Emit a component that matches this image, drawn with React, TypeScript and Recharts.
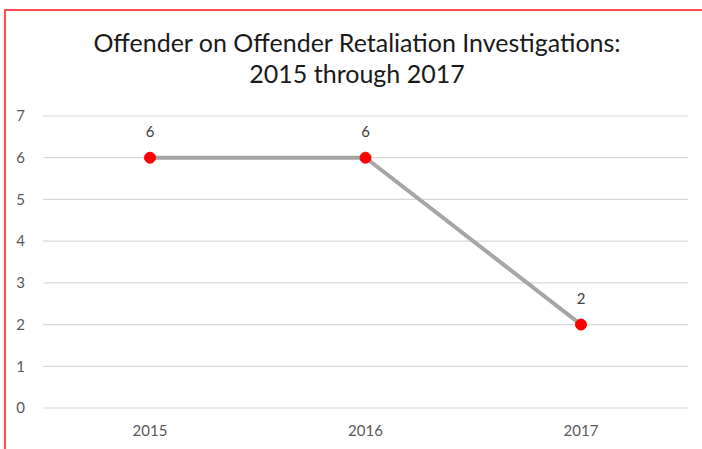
import React from 'react';
import { LineChart, Line, XAxis, YAxis, CartesianGrid, LabelList } from 'recharts';

const years = ['2015', '2016', '2017'];
const investigations = [6, 6, 2];
const yTicks = [0, 1, 2, 3, 4, 5, 6, 7];

const chartData = years.map((year, i) => ({ year, count: investigations[i] }));

const font = 'Lato, "Open Sans", sans-serif';

export default function App() {
  return (
    <div style={{ position: 'absolute', left: 0, top: 0, width: 702, height: 449, background: '#fff', fontFamily: font }}>
      {/* red frame, only top and left edges show in the source */}
      <div
        style={{
          position: 'absolute',
          left: 4,
          top: 9,
          width: 698,
          height: 440,
          borderTop: '2px solid #ff4d4d',
          borderLeft: '2px solid #ff4d4d',
        }}
      />
      <div
        style={{
          position: 'absolute',
          left: 0,
          top: 27,
          width: 714,
          textAlign: 'center',
          fontSize: 25,
          lineHeight: '31px',
          color: '#1a1a1a',
        }}
      >
        Offender on Offender Retaliation Investigations:
        <br />
        2015 through 2017
      </div>
      <div style={{ position: 'absolute', left: 0, top: 0 }}>
        <LineChart width={702} height={449} data={chartData} margin={{ top: 116, right: 14, bottom: 11, left: 13 }}>
          <CartesianGrid vertical={false} stroke="#d9d9d9" strokeWidth={1.2} />
          <XAxis
            dataKey="year"
            height={30}
            padding={{ left: 107, right: 107 }}
            axisLine={false}
            tickLine={false}
            tickSize={0}
            tickMargin={17}
            tick={{ fill: '#595959', fontSize: 15, fontFamily: font }}
          />
          <YAxis
            width={30}
            domain={[0, 7]}
            ticks={yTicks}
            axisLine={false}
            tickLine={false}
            tickSize={0}
            tickMargin={18}
            tick={{ fill: '#595959', fontSize: 15, fontFamily: font }}
          />
          <Line
            type="linear"
            dataKey="count"
            stroke="#a6a6a6"
            strokeWidth={4}
            dot={{ r: 5.5, fill: '#ff0000', stroke: '#ff0000', strokeWidth: 1 }}
            activeDot={false}
            isAnimationActive={false}
          >
            <LabelList dataKey="count" position="top" offset={21} fill="#404040" fontSize={15} fontFamily={font} />
          </Line>
        </LineChart>
      </div>
    </div>
  );
}
